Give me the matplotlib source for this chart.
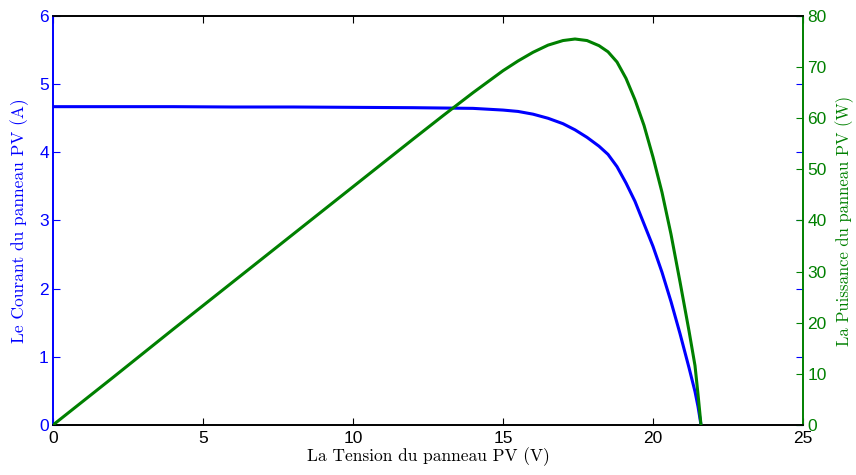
import matplotlib
matplotlib.use("Agg")
import matplotlib.pyplot as plt

# Data
voltage = [0, 2, 4, 6, 8, 10, 12, 13, 14, 15, 15.5, 16, 16.5, 17, 17.4, 17.8,
           18.2, 18.5, 18.8, 19.1, 19.4, 19.7, 20.0, 20.3, 20.6, 20.9, 21.2,
           21.4, 21.5, 21.6]
current = [4.67, 4.67, 4.67, 4.665, 4.665, 4.66, 4.655, 4.65, 4.645, 4.62, 4.60,
           4.56, 4.50, 4.42, 4.33, 4.22, 4.09, 3.97, 3.79, 3.55, 3.28, 2.95,
           2.62, 2.24, 1.81, 1.34, 0.84, 0.49, 0.27, 0.0]
power = [0, 9.3, 18.7, 28.0, 37.3, 46.6, 55.9, 60.5, 65.0, 69.3, 71.2, 72.9,
         74.3, 75.2, 75.5, 75.2, 74.2, 73.0, 71.0, 67.8, 63.6, 58.6, 52.4,
         45.5, 37.3, 28.0, 18.4, 11.6, 6.0, 0]

x_ticks = [0, 5, 10, 15, 20, 25]
i_ticks = [0, 1, 2, 3, 4, 5, 6]
p_ticks = [0, 10, 20, 30, 40, 50, 60, 70, 80]

BLUE = "#0000ff"
GREEN = "#008000"
tick_font = "Liberation Sans"
label_font = "cmr10"

fig = plt.figure(figsize=(8.56, 4.75), dpi=100)
ax = fig.add_axes([0.0619, 0.1053, 0.8762, 0.861])
ax2 = ax.twinx()

ax.plot(voltage, current, color=BLUE, lw=2.2, zorder=3, solid_joinstyle="round")
ax2.plot(voltage, power, color=GREEN, lw=2.2, zorder=3, solid_joinstyle="round")

ax.set_xlim(0, 25)
ax.set_ylim(0, 6)
ax2.set_ylim(0, 80)
ax.set_xticks(x_ticks)
ax.set_yticks(i_ticks)
ax2.set_yticks(p_ticks)

ax.tick_params(axis="x", direction="in", length=5, top=True, colors="black",
               labelsize=12.5, pad=4)
ax.tick_params(axis="y", direction="in", length=5, left=True, right=True,
               colors=BLUE, labelsize=12.5, pad=3)
ax2.tick_params(axis="y", direction="in", length=5, colors=GREEN,
                labelsize=12.5, pad=3)
for lab in ax.get_xticklabels() + ax.get_yticklabels() + ax2.get_yticklabels():
    lab.set_fontfamily(tick_font)

for a in (ax, ax2):
    a.spines["top"].set_color("black")
    a.spines["bottom"].set_color("black")
    a.spines["left"].set_color(BLUE)
    a.spines["right"].set_color(GREEN)
    for s in a.spines.values():
        s.set_linewidth(1.2)

ax.set_xlabel("La Tension du panneau PV (V)", fontfamily=label_font,
              fontsize=12.5, color="black", labelpad=1)
ax.set_ylabel("Le Courant du panneau PV (A)", fontfamily=label_font,
              fontsize=12.5, color=BLUE, labelpad=7)
ax2.set_ylabel("La Puissance du panneau PV (W)", fontfamily=label_font,
               fontsize=12, color=GREEN, labelpad=6)

fig.savefig("out.png", dpi=100)
